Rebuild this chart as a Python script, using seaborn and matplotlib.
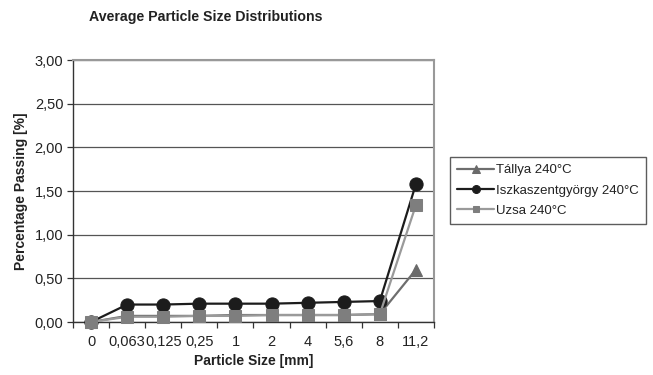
import numpy as np
import pandas as pd
import matplotlib
matplotlib.use("Agg")
import matplotlib.pyplot as plt
from matplotlib.ticker import FixedLocator, FuncFormatter
import seaborn as sns

# adatok
meretek = ["0", "0,063", "0,125", "0,25", "1", "2", "4", "5,6", "8", "11,2"]
tallya = [0.00, 0.07, 0.07, 0.07, 0.08, 0.08, 0.08, 0.08, 0.09, 0.60]
iszka = [0.00, 0.20, 0.20, 0.21, 0.21, 0.21, 0.22, 0.23, 0.24, 1.58]
uzsa = [0.00, 0.06, 0.06, 0.07, 0.07, 0.08, 0.08, 0.08, 0.09, 1.34]
nevek = ["Tállya 240°C", "Iszkaszentgyörgy 240°C", "Uzsa 240°C"]


def main():
    sns.set_style("white")
    plt.rcParams["font.family"] = ["Liberation Sans", "DejaVu Sans"]

    df = pd.DataFrame({"meret": meretek * 3,
                       "ertek": tallya + iszka + uzsa,
                       "minta": np.repeat(nevek, len(meretek))})

    fig = plt.figure(figsize=(6.53, 3.75), dpi=100)
    ax = fig.add_axes([0.1118, 0.1413, 0.5528, 0.6987])

    szinek = {nevek[0]: "#6e6e6e", nevek[1]: "#1c1c1c", nevek[2]: "#9a9a9a"}
    jelolok = {nevek[0]: "^", nevek[1]: "o", nevek[2]: "s"}
    jelolo_szin = {nevek[0]: "#6a6a6a", nevek[1]: "#1c1c1c", nevek[2]: "#7e7e7e"}
    meret_pt = {nevek[0]: 9, nevek[1]: 9.5, nevek[2]: 8}

    for nev in nevek:
        sub = df[df.minta == nev]
        sns.lineplot(data=sub, x="meret", y="ertek", ax=ax, sort=False,
                     color=szinek[nev], lw=1.6, marker=jelolok[nev],
                     markersize=meret_pt[nev], clip_on=False, zorder=3,
                     markerfacecolor=jelolo_szin[nev],
                     markeredgecolor=jelolo_szin[nev], label=nev)

    ax.set_xlim(-0.5, len(meretek) - 0.5)
    ax.set_ylim(0, 3)
    ax.set_yticks(np.arange(0, 3.01, 0.5))
    ax.yaxis.set_major_formatter(FuncFormatter(lambda v, p: f"{v:.2f}".replace(".", ",")))
    ax.yaxis.grid(True, color="#555555", lw=0.9)
    ax.set_xticks(range(len(meretek)))
    ax.set_xticklabels(meretek)
    ax.tick_params(axis="x", which="major", length=0, pad=9, labelsize=10.5, colors="#222222")
    ax.xaxis.set_minor_locator(FixedLocator(np.arange(-0.5, len(meretek), 1)))
    ax.tick_params(axis="x", which="minor", bottom=True, length=4, width=0.9, color="#333333")
    ax.tick_params(axis="y", left=True, length=4, width=0.9, color="#333333",
                   labelsize=10.5, labelcolor="#222222", pad=3)

    for s in ["left", "bottom"]:
        ax.spines[s].set_color("#333333")
        ax.spines[s].set_linewidth(1.0)
    for s in ["top", "right"]:
        ax.spines[s].set_color("#999999")
        ax.spines[s].set_linewidth(1.5)

    ax.set_xlabel("Particle Size [mm]", fontsize=10, fontweight="bold", color="#222222", labelpad=4)
    ax.set_ylabel("Percentage Passing [%]", fontsize=10, fontweight="bold", color="#222222", labelpad=5)
    fig.text(0.3155, 0.955, "Average Particle Size Distributions", ha="center", va="center",
             fontsize=10.2, fontweight="bold", color="#222222")

    leg = ax.legend(loc="upper left", bbox_to_anchor=(1.026, 0.655), frameon=True,
                    fancybox=False, edgecolor="#333333", fontsize=9.5,
                    handlelength=2.8, handletextpad=0.15, labelspacing=0.6,
                    borderpad=0.55, markerscale=0.6)
    leg.get_frame().set_linewidth(1.0)
    for t in leg.get_texts():
        t.set_color("#222222")

    fig.savefig("out.png", dpi=100)


if __name__ == "__main__":
    main()
